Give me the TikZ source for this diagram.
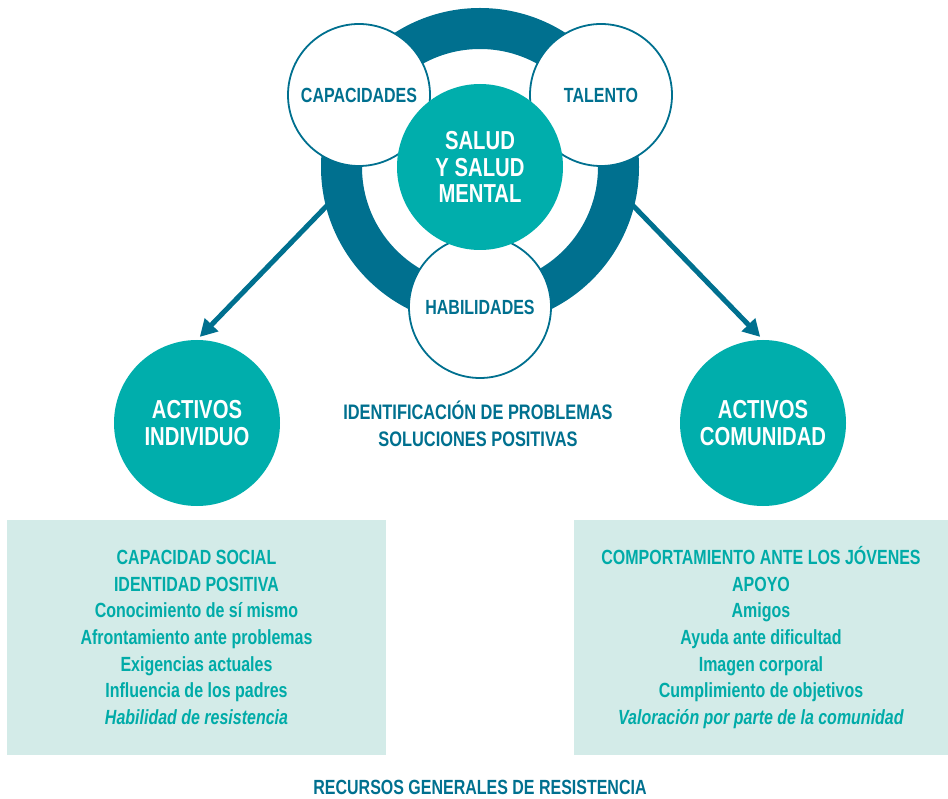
\documentclass[tikz,border=0pt]{standalone}
\usepackage{fontspec}
\setmainfont{Liberation Sans}[FakeStretch=0.78]
\usetikzlibrary{arrows.meta}
\definecolor{ringblue}{HTML}{00708F}
\definecolor{tealc}{HTML}{00AEAC}
\definecolor{boxfill}{HTML}{D3EBE8}
\definecolor{boxtext}{HTML}{00ABA8}
\tikzset{
  petal/.style={shape=circle,draw=ringblue,line width=1.8pt,fill=white,minimum size=142pt,inner sep=0pt,
    text=ringblue,font=\fontsize{20.5}{26}\selectfont\bfseries},
  core/.style={shape=circle,fill=tealc,minimum size=166pt,inner sep=0pt,text=white,align=center,
    font=\fontsize{26}{26.5}\selectfont\bfseries},
  resbox/.style={shape=rectangle,fill=boxfill,inner sep=0pt,minimum height=235pt,text=boxtext,align=center,
    font=\fontsize{20.5}{26.7}\selectfont\bfseries},
  label/.style={text=ringblue,align=center,font=\fontsize{21}{27}\selectfont\bfseries},
  arrowline/.style={draw=ringblue,line width=5pt,-{Triangle[length=17pt,width=18pt]},shorten >=4pt}
}
\begin{document}
\begin{tikzpicture}[x=1pt,y=-1pt]
        \useasboundingbox (0,0) rectangle (948,799);
        % ring and arrows
        \coordinate (a) at (345,187);
        \coordinate (b) at (615,187);
        \node[core] (5) at (197,423) {ACTIVOS\\INDIVIDUO};
        \node[core] (6) at (763,423) {ACTIVOS\\COMUNIDAD};
        \draw [arrowline] (a) -- (5.north);
        \draw [arrowline] (b) -- (6.north);
        \draw[ringblue,line width=41pt] (480,167) circle[radius=138.5pt];
        \node[petal] (2) at (359,95) {CAPACIDADES};
        \node[petal] (3) at (601,95) {TALENTO};
        \node[petal] (4) at (480,307) {HABILIDADES};
        \node[core] (1) at (480,167) {SALUD\\Y SALUD\\MENTAL};
        \node[label] (7) at (478,424) {IDENTIFICACIÓN DE PROBLEMAS\\SOLUCIONES POSITIVAS};
        % resources
        \node[resbox,minimum width=379pt] (8) at (196.5,637.5) {CAPACIDAD SOCIAL\\IDENTIDAD POSITIVA\\Conocimiento de sí mismo\\Afrontamiento ante problemas\\Exigencias actuales\\Influencia de los padres\\\textit{Habilidad de resistencia}};
        \node[resbox,minimum width=374pt] (9) at (761,637.5) {COMPORTAMIENTO ANTE LOS JÓVENES\\APOYO\\Amigos\\Ayuda ante dificultad\\Imagen corporal\\Cumplimiento de objetivos\\\textit{Valoración por parte de la comunidad}};
        \node[label,font=\fontsize{20.5}{27}\selectfont\bfseries] (10) at (480,787) {RECURSOS GENERALES DE RESISTENCIA};
\end{tikzpicture}
\end{document}
